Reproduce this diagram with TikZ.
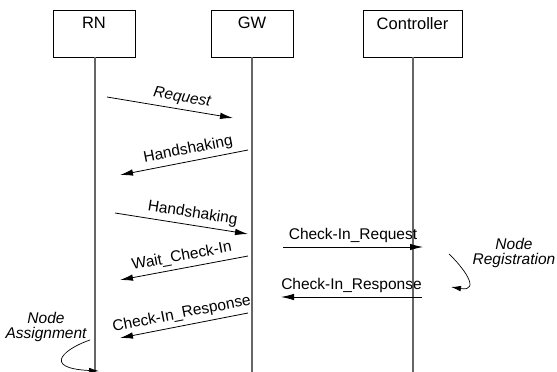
\documentclass[tikz,border=0pt]{standalone}
\usepackage{fontspec}
\setmainfont{Liberation Sans}
\usetikzlibrary{arrows.meta}

\begin{document}
\begin{tikzpicture}[x=1pt,y=-1pt,>={Latex[length=13pt,width=6.5pt]},
    font=\fontsize{15.5}{16}\selectfont,
    actor/.style={draw,line width=0.9pt,minimum height=47pt,inner sep=0pt},
    life/.style={draw=black!60,line width=1.7pt},
    msg/.style={->,line width=0.8pt},
    lbl/.style={above,sloped,pos=0.55,inner sep=4pt},
    note/.style={align=center,font=\fontsize{15.5}{15}\selectfont\itshape},
    curl/.style={->,line width=0.7pt,>={Latex[length=10pt,width=5.5pt]}}]
  \useasboundingbox (0,0) rectangle (557,372);

  % participants
  \node[actor,minimum width=82pt,label={[name=rnt,anchor=north,yshift=-4pt,font=\fontsize{16.5}{17}\selectfont]north:RN}] (rn) at (94,33.5) {};
  \node[actor,minimum width=82pt,label={[name=gwt,anchor=north,yshift=-4pt,font=\fontsize{16.5}{17}\selectfont]north:GW}] (gw) at (252,33.5) {};
  \node[actor,minimum width=99pt,label={[name=ctt,anchor=north,yshift=-4pt,font=\fontsize{16.5}{17}\selectfont]north:Controller}] (ct) at (412.5,33.5) {};

  % lifelines
  \coordinate (rnend) at (95,372);
  \coordinate (gwend) at (252,372);
  \coordinate (ctend) at (413,372);
  \draw[life] (rn.south -| rnend) -- (rnend);
  \draw[life] (gw.south -| gwend) -- (gwend);
  \draw[life] (ct.south -| ctend) -- (ctend);

  % message ends
  \coordinate (a1) at (107,97);  \coordinate (b1) at (233,118);
  \coordinate (a2) at (248,150); \coordinate (b2) at (120,175);
  \coordinate (a3) at (115,213); \coordinate (b3) at (248,234);
  \coordinate (a4) at (248,256); \coordinate (b4) at (120,280);
  \coordinate (a5) at (248,313); \coordinate (b5) at (120,338);
  \coordinate (a6) at (283,247); \coordinate (b6) at (423,247);
  \coordinate (a7) at (422,297); \coordinate (b7) at (281,297);

  \draw[msg] (a1) -- node[lbl,pos=0.58,font=\fontsize{15.5}{16}\selectfont\itshape] {Request} (b1);
  \draw[msg] (a2) -- node[lbl,pos=0.45] {Handshaking} (b2);
  \draw[msg] (a3) -- node[lbl,pos=0.57] {Handshaking} (b3);
  \draw[msg] (a4) -- node[lbl,pos=0.5] {Wait\_Check-In} (b4);
  \draw[msg] (a5) -- node[lbl,pos=0.5] {Check-In\_Response} (b5);
  \draw[msg] (a6) -- node[lbl,pos=0.5] {Check-In\_Request} (b6);
  \draw[msg] (a7) -- node[lbl,pos=0.5] {Check-In\_Response} (b7);

  % local actions
  \node[note] (reg) at (514,253) {Node\\Registration};
  \node[note] (asg) at (46,327) {Node\\Assignment};
  \coordinate (r1) at (449,254); \coordinate (r2) at (451,287);
  \coordinate (s1) at (90,340);  \coordinate (s2) at (99,371);
  \draw[curl] (r1) .. controls (462,266) and (482,292) .. (r2);
  \draw[curl] (s1) .. controls (66,348) and (40,368) .. (s2);
\end{tikzpicture}
\end{document}
